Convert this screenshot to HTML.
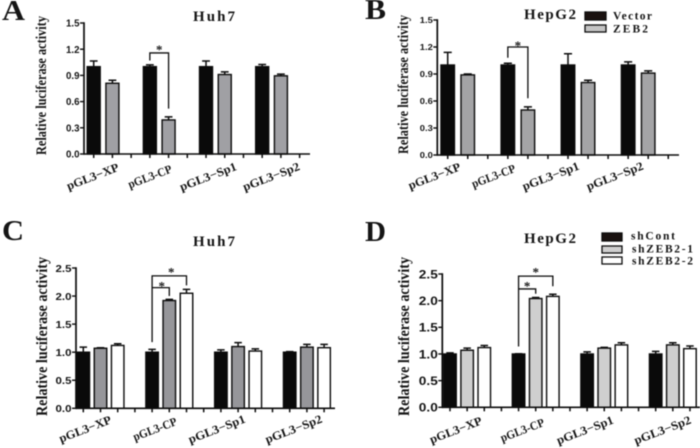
<!DOCTYPE html>
<html>
<head>
<meta charset="utf-8">
<title>Relative luciferase activity</title>
<style>
html,body{margin:0;padding:0;background:#fff;width:700px;height:448px;overflow:hidden}
svg{display:block;filter:blur(0.4px)}
.ser{font-family:"Liberation Serif",serif;font-weight:bold;fill:#151515}
.san{font-family:"Liberation Sans",sans-serif;font-weight:bold;fill:#151515}
</style>
</head>
<body>
<svg id="figure" width="700" height="448" viewBox="0 0 700 448" xmlns="http://www.w3.org/2000/svg"></svg>
<script>
const categories = ["pGL3\u2212XP", "pGL3-CP", "pGL3\u2212Sp1", "pGL3\u2212Sp2"];
const ticksA = ["0.0", "0.3", "0.6", "0.9", "1.2", "1.5"];
const ticksC = ["0.0", "0.5", "1.0", "1.5", "2.0", "2.5"];

const aVector = [1.0, 1.0, 1.0, 1.0];
const aVectorErr = [0.065, 0.02, 0.065, 0.025];
const aZeb2 = [0.81, 0.39, 0.91, 0.895];
const aZeb2Err = [0.035, 0.035, 0.03, 0.02];

const bVector = [1.0, 1.0, 1.0, 1.0];
const bVectorErr = [0.14, 0.02, 0.125, 0.035];
const bZeb2 = [0.89, 0.5, 0.805, 0.91];
const bZeb2Err = [0.01, 0.035, 0.025, 0.025];

const cCont = [1.0, 1.0, 1.0, 1.0];
const cContErr = [0.09, 0.05, 0.04, 0.01];
const cZeb1 = [1.07, 1.92, 1.1, 1.09];
const cZeb1Err = [0.01, 0.02, 0.07, 0.05];
const cZeb2 = [1.12, 2.05, 1.02, 1.08];
const cZeb2Err = [0.03, 0.07, 0.04, 0.06];

const dCont = [1.0, 1.0, 1.0, 1.0];
const dContErr = [0.02, 0.005, 0.04, 0.05];
const dZeb1 = [1.07, 2.04, 1.11, 1.17];
const dZeb1Err = [0.04, 0.02, 0.015, 0.04];
const dZeb2 = [1.12, 2.08, 1.17, 1.1];
const dZeb2Err = [0.04, 0.04, 0.04, 0.05];

const panels = [
  { id: "a", letter: "A", lx: 2, ly: 20, lw: 23, title: "Huh7", tx: 214, ty: 21, tw: 42, tfs: 15,
    axisX: 84, y0: 154, yTop: 23, xEnd: 310, x0: 93.7, step: 18.72, barW: 13, tickCount: 12, perGroup: 2,
    ticks: ticksA, yMax: 1.5, tickFs: 10, tickW: 13.5,
    titleX: 42, titleTop: 16, titleBottom: 155, titleFs: 15,
    labelDx: [-10, -9, -7, 0], labelY: 177.5, labelLen: [55, 46, 60, 60], labelFs: 12,
    series: [[aVector, aVectorErr, "#0a0a0a", "vector"], [aZeb2, aZeb2Err, "#a0a0a4", "zeb2"]],
    brackets: [{ left: 3, right: 4, top: 1.157, leftEnd: 1.07, rightEnd: 0.52, starDx: 0, starY: 48 }],
    legend: [] },
  { id: "b", letter: "B", lx: 365, ly: 19, lw: 21, title: "HepG2", tx: 550, ty: 19, tw: 52, tfs: 15,
    axisX: 437.3, y0: 155, yTop: 20, xEnd: 679, x0: 447.7, step: 20.05, barW: 13.5, tickCount: 12, perGroup: 2,
    ticks: ticksA, yMax: 1.5, tickFs: 8.5, tickW: 13,
    titleX: 404, titleTop: 15, titleBottom: 154, titleFs: 15,
    labelDx: [-23, -24, -27, -23], labelY: 177, labelLen: [55, 46, 60, 60], labelFs: 12,
    series: [[bVector, bVectorErr, "#0a0a0a", "vector"], [bZeb2, bZeb2Err, "#a4a4a6", "zeb2"]],
    brackets: [{ left: 3, right: 4, top: 1.2, leftEnd: 1.08, rightEnd: 0.63, starDx: 0, starY: 44 }],
    legend: [
      { text: "Vector", fill: "#1a1210", rx: 585, ry: 12, rw: 21, rh: 8, tx: 613, ty: 19.5, tw: 39, fs: 11.5 },
      { text: "ZEB2", fill: "#c4c4c4", rx: 585, ry: 25, rw: 21, rh: 7, tx: 613, ty: 32.5, tw: 35, fs: 11.5 }
    ] },
  { id: "c", letter: "C", lx: 2, ly: 240, lw: 22, title: "Huh7", tx: 214, ty: 246, tw: 42, tfs: 15,
    axisX: 76, y0: 408.3, yTop: 268, xEnd: 335, x0: 83.3, step: 17.2, barW: 12.5, tickCount: 15, perGroup: 3,
    ticks: ticksC, yMax: 2.5, tickFs: 10.5, tickW: 16,
    titleX: 43, titleTop: 257, titleBottom: 416, titleFs: 15.5,
    labelDx: [-15, -14, -21, -13], labelY: 430, labelLen: [55, 46, 60, 60], labelFs: 12,
    series: [[cCont, cContErr, "#0a0a0a", "shcont"], [cZeb1, cZeb1Err, "#96969a", "shzeb2-1"], [cZeb2, cZeb2Err, "#ffffff", "shzeb2-2"]],
    brackets: [
      { left: 4, right: 6, top: 2.36, leftEnd: 1.18, rightEnd: 2.19, starDx: 2, starY: 270.7 },
      { left: 4, right: 5, top: 2.15, leftEnd: 2.15, rightEnd: 2.0, starDx: 1, starY: 284.7 }
    ],
    legend: [] },
  { id: "d", letter: "D", lx: 365, ly: 241, lw: 21, title: "HepG2", tx: 550, ty: 243, tw: 52, tfs: 15,
    axisX: 442.3, y0: 407.3, yTop: 274, xEnd: 700, x0: 450, step: 17.14, barW: 12.5, tickCount: 15, perGroup: 3,
    ticks: ticksC, yMax: 2.5, tickFs: 12, tickW: 19,
    titleX: 405, titleTop: 257, titleBottom: 416, titleFs: 15.5,
    labelDx: [-11, -13, -19, -10], labelY: 431, labelLen: [55, 46, 60, 60], labelFs: 12,
    series: [[dCont, dContErr, "#0a0a0a", "shcont"], [dZeb1, dZeb1Err, "#cfcfcf", "shzeb2-1"], [dZeb2, dZeb2Err, "#ffffff", "shzeb2-2"]],
    brackets: [
      { left: 4, right: 6, top: 2.46, leftEnd: 1.14, rightEnd: 2.27, starDx: 0, starY: 270.7 },
      { left: 4, right: 5, top: 2.22, leftEnd: 2.22, rightEnd: 2.13, starDx: 0, starY: 284.7 }
    ],
    legend: [
      { text: "shCont", fill: "#1a1210", rx: 602, ry: 233, rw: 20, rh: 8, tx: 631, ty: 239.5, tw: 44, fs: 11.5 },
      { text: "shZEB2-1", fill: "#cfcfcf", rx: 602, ry: 246, rw: 20, rh: 7, tx: 632, ty: 252.5, tw: 61, fs: 11.5 },
      { text: "shZEB2-2", fill: "#ffffff", rx: 602, ry: 257, rw: 20, rh: 7, tx: 632, ty: 264.5, tw: 61, fs: 11.5 }
    ] }
];

const NS = "http://www.w3.org/2000/svg";
const INK = "#0c0c0c";
const root = document.getElementById("figure");

function make(tag, attrs, parent, content) {
  const el = document.createElementNS(NS, tag);
  for (const k in attrs) el.setAttribute(k, attrs[k]);
  if (content !== undefined) el.textContent = content;
  parent.appendChild(el);
  return el;
}

function drawPanel(p) {
  const yScale = v => p.y0 - (v / p.yMax) * (p.y0 - p.yTop);
  const xSlot = s => p.x0 + s * p.step;

  const g = make("g", {}, root);
  
  

  const letter = make("text", { x: p.lx, y: p.ly, class: "ser", "font-size": 28, fill: "#151515", textLength: p.lw, lengthAdjust: "spacingAndGlyphs" }, g, p.letter);
  
  

  const title = make("text", { x: p.tx, y: p.ty, class: "ser", "font-size": p.tfs, "text-anchor": "middle", textLength: p.tw, lengthAdjust: "spacing" }, g, p.title);
  
  

  const yMid = (p.titleTop + p.titleBottom) / 2;
  const yTitle = make("text", {
    x: 0, y: 0, class: "ser", "font-size": p.titleFs, "text-anchor": "middle",
    transform: "translate(" + (p.titleX + 4) + " " + yMid + ") rotate(-90)",
    textLength: p.titleBottom - p.titleTop, lengthAdjust: "spacingAndGlyphs"
  }, g, "Relative  luciferase  activity");
  
  

  p.series.forEach((s, si) => {
    const vals = s[0], errs = s[1], fill = s[2], name = s[3];
    vals.forEach((v, i) => {
      const cx = xSlot(i * (p.perGroup + 1) + si);
      const top = yScale(v);
      const eTop = yScale(v + errs[i]);
      const err = make("path", {
        d: "M" + cx + " " + top + "V" + eTop + "M" + (cx - p.barW * 0.3) + " " + eTop + "H" + (cx + p.barW * 0.3),
        fill: "none", stroke: INK, "stroke-width": 1.5
      }, g);
      
      
      const bar = make("rect", {
        x: cx - p.barW / 2, y: top, width: p.barW, height: p.y0 - top,
        fill: fill, stroke: INK, "stroke-width": 1.4
      }, g);
      
      
    });
  });

  const yAxis = make("line", { x1: p.axisX, x2: p.axisX, y1: p.yTop - 0.8, y2: p.y0 + 0.8, stroke: INK, "stroke-width": 1.7 }, g);
  
  
  const xAxis = make("line", { x1: p.axisX, x2: p.xEnd, y1: p.y0, y2: p.y0, stroke: INK, "stroke-width": 1.6 }, g);
  
  

  p.ticks.forEach(t => {
    const y = yScale(parseFloat(t));
    const tick = make("line", { x1: p.axisX - 4, x2: p.axisX, y1: y, y2: y, stroke: INK, "stroke-width": 1.4 }, g);
    
    
    const lab = make("text", {
      x: p.axisX - 4.5, y: y + p.tickFs * 0.36, class: "san", "font-size": p.tickFs, "text-anchor": "end",
      textLength: p.tickW, lengthAdjust: "spacingAndGlyphs"
    }, g, t);
    
    
  });

  for (let s = 0; s < p.tickCount; s++) {
    const tick = make("line", { x1: xSlot(s), x2: xSlot(s), y1: p.y0, y2: p.y0 + 4, stroke: INK, "stroke-width": 1.5 }, g);
    
    
  }

  categories.forEach((c, i) => {
    const groupCenter = xSlot(i * (p.perGroup + 1) + (p.perGroup - 1) / 2);
    const cx = groupCenter + p.labelDx[i];
    const lab = make("text", {
      x: 0, y: 0, class: "ser", "font-size": p.labelFs, "text-anchor": "middle",
      transform: "translate(" + cx + " " + p.labelY + ") rotate(-21) translate(0 3)",
      textLength: p.labelLen[i], lengthAdjust: "spacingAndGlyphs"
    }, g, c);
    
    
  });

  p.brackets.forEach((b, i) => {
    const xl = xSlot(b.left), xr = xSlot(b.right);
    const br = make("path", {
      d: "M" + xl + " " + yScale(b.leftEnd) + "V" + yScale(b.top) + "H" + xr + "V" + yScale(b.rightEnd),
      fill: "none", stroke: INK, "stroke-width": 1.3
    }, g);
    
    
    const star = make("text", {
      x: (xl + xr) / 2 + b.starDx, y: b.starY + 6, class: "ser", "font-size": 13, "text-anchor": "middle"
    }, g, "*");
    
    
  });

  p.legend.forEach((l, i) => {
    const sw = make("rect", { x: l.rx, y: l.ry, width: l.rw, height: l.rh, fill: l.fill, stroke: INK, "stroke-width": 1.3 }, g);
    
    
    const tx = make("text", { x: l.tx, y: l.ty, class: "ser", "font-size": l.fs, textLength: l.tw, lengthAdjust: "spacing" }, g, l.text);
    
    
  });
}

panels.forEach(drawPanel);
</script>
</body>
</html>
